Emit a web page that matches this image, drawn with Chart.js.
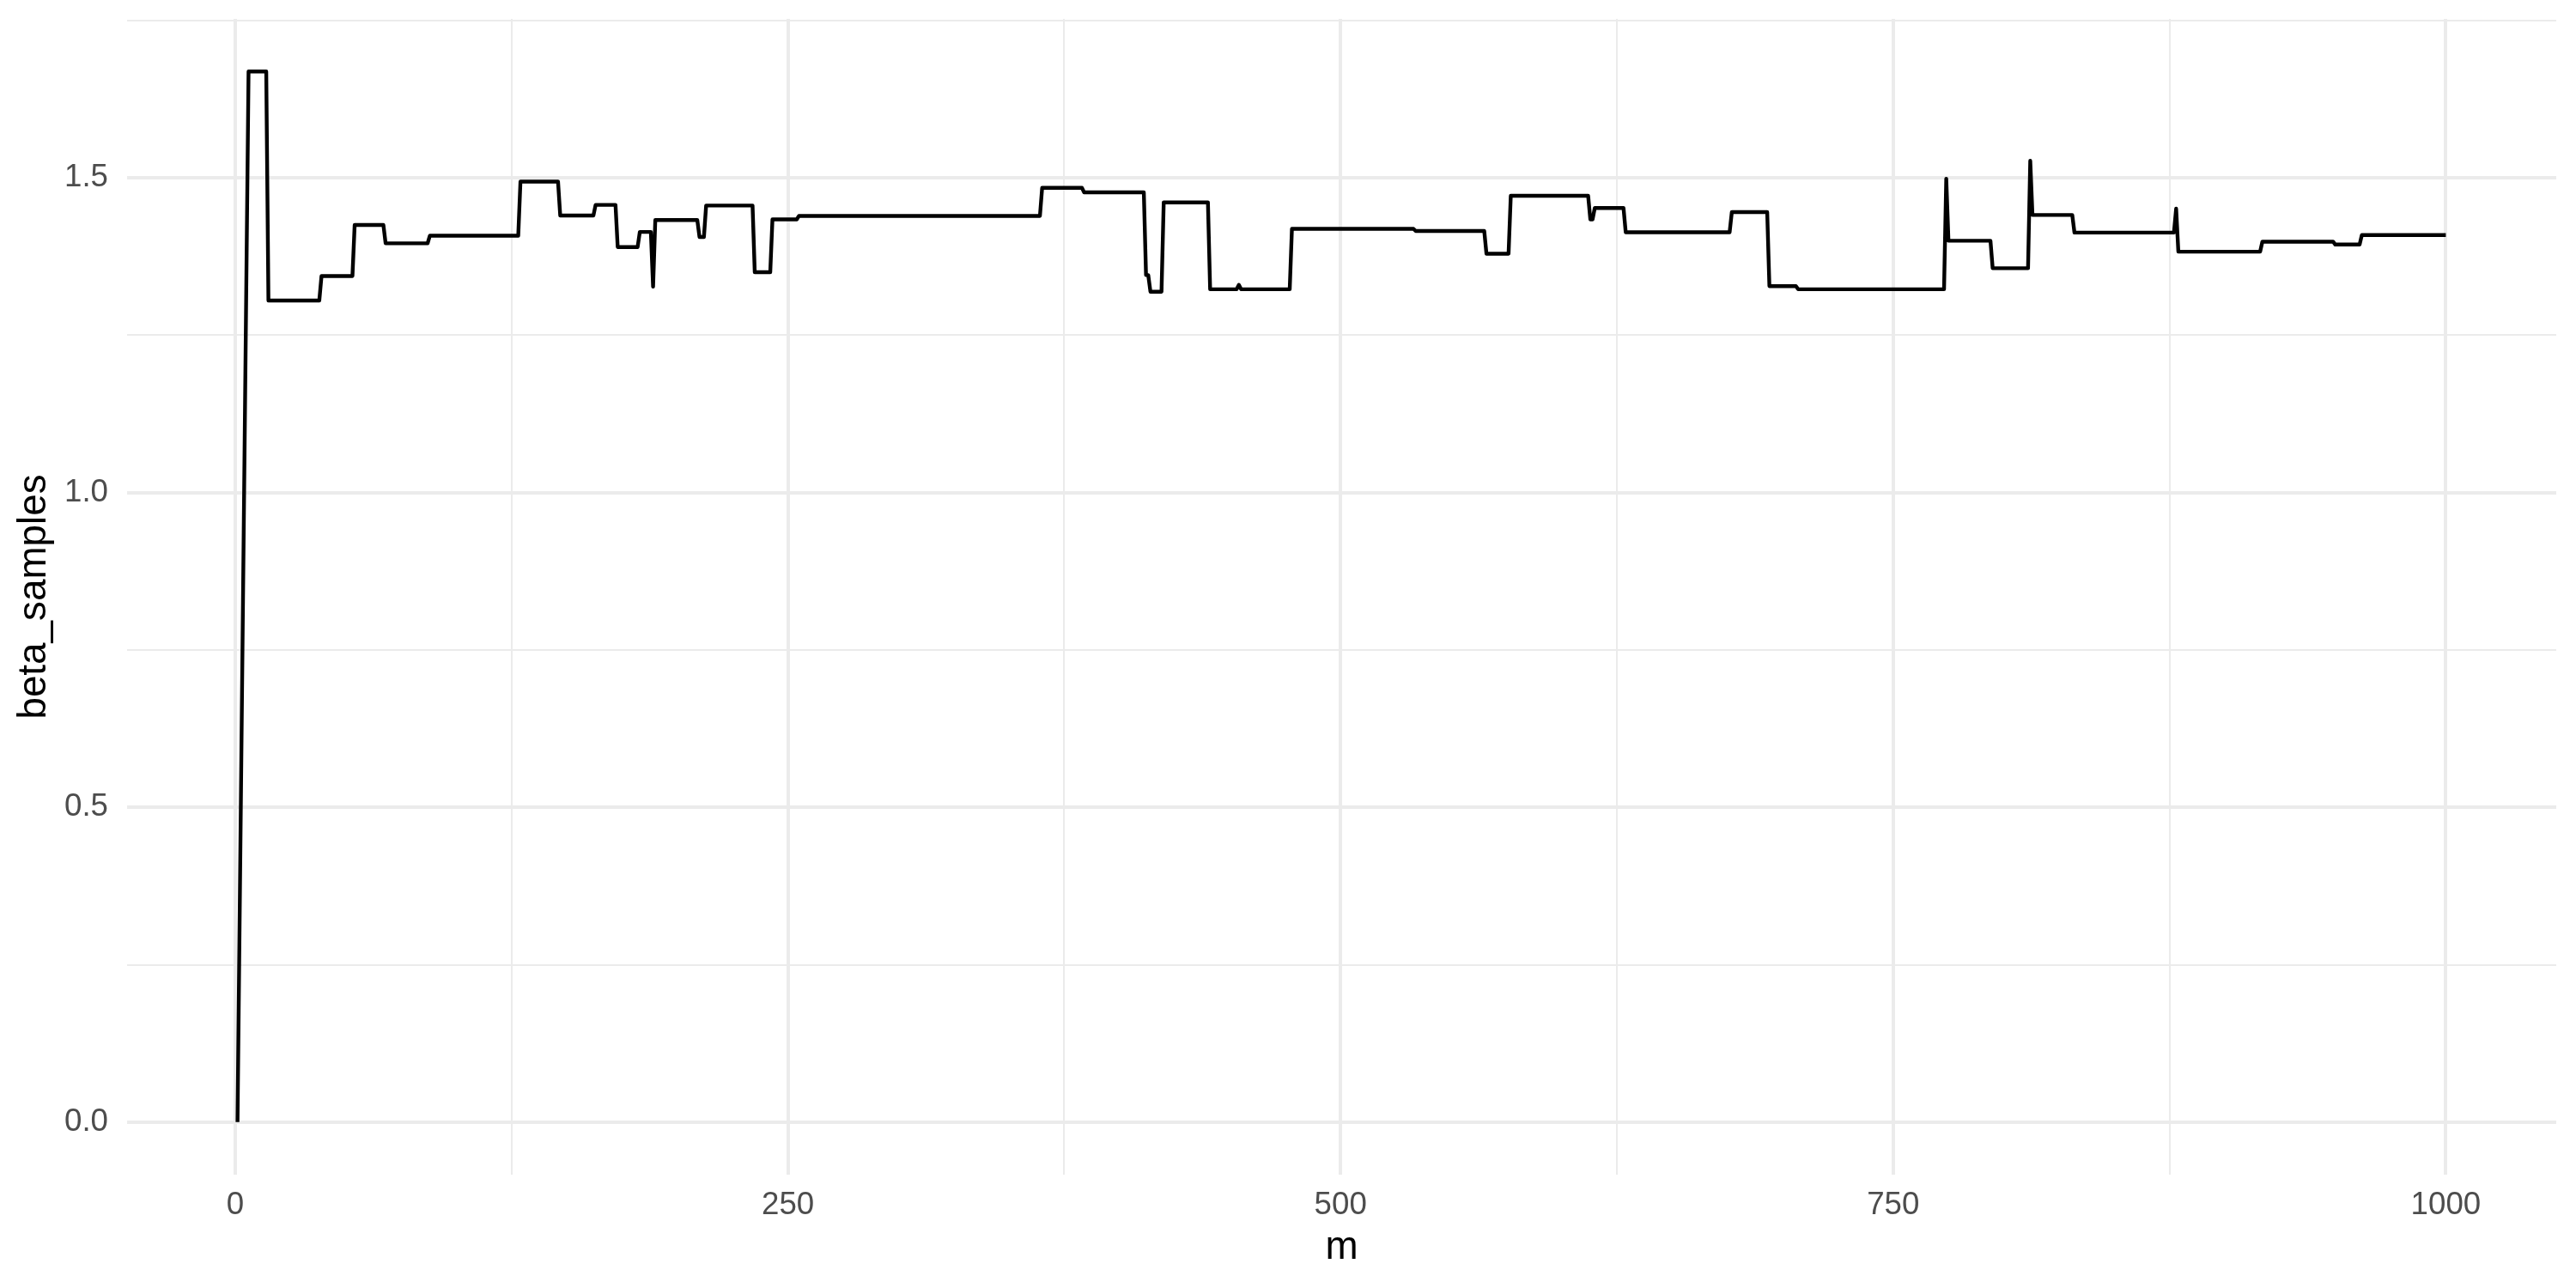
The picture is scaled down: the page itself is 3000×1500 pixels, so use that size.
<!DOCTYPE html>
<html>
<head>
<meta charset="utf-8">
<script src="https://cdn.jsdelivr.net/npm/chart.js@4/dist/chart.umd.min.js"></script>
<style>
  html, body { margin: 0; padding: 0; background: #ffffff; }
  #wrap { width: 3000px; height: 1500px; }
</style>
</head>
<body>
<div id="wrap"><canvas id="c" width="3000" height="1500"></canvas></div>
<script>
// Iteration index (m) at each corner of the trace
const mValues = [
  1,
  6, 14, 15, 38, 39, 53, 54, 67, 68, 87, 88, 128, 129, 146, 147, 162, 163, 172,
  173, 182, 183, 188, 189, 190, 209, 210, 212, 213, 234, 235, 242, 243, 254,
  255, 364, 365, 383, 384, 411, 412, 413, 414, 419, 420, 440, 441, 453, 454,
  455, 477, 478, 533, 534, 565, 566, 576, 577, 612, 613, 614, 615, 628,
  629, 676, 677, 693, 694, 706, 707, 773, 774, 775, 794, 795, 811, 812,
  813, 831, 832, 877, 878, 879, 916, 917, 949, 950, 961, 962, 1000
];
// beta_samples value at each of those m
const betaSamples = [
  0,
  1.669, 1.669, 1.305, 1.305, 1.344, 1.344, 1.425, 1.425, 1.396, 1.396, 1.408, 1.408, 1.494, 1.494, 1.440, 1.440, 1.457, 1.457,
  1.390, 1.390, 1.414, 1.414, 1.327, 1.433, 1.433, 1.406, 1.406, 1.456, 1.456, 1.350, 1.350, 1.434, 1.434,
  1.4395, 1.4395, 1.484, 1.484, 1.477, 1.477, 1.3455, 1.3455, 1.319, 1.319, 1.461, 1.461, 1.323, 1.323, 1.330,
  1.323, 1.323, 1.419, 1.419, 1.4155, 1.4155, 1.3795, 1.3795, 1.4714, 1.4714, 1.434, 1.434, 1.452, 1.452,
  1.4136, 1.4136, 1.4455, 1.4455, 1.328, 1.328, 1.323, 1.323, 1.4986, 1.400, 1.400, 1.3564, 1.3564, 1.527,
  1.441, 1.441, 1.413, 1.413, 1.451, 1.3827, 1.3827, 1.3986, 1.3986, 1.394, 1.394, 1.409, 1.409
];

const xMajorTicks = [0, 250, 500, 750, 1000];
const xMajorLabels = ['0', '250', '500', '750', '1000'];
const xMinorTicks = [125, 375, 625, 875];
const yMajorTicks = [0, 0.5, 1.0, 1.5];
const yMajorLabels = ['0.0', '0.5', '1.0', '1.5'];
const yMinorTicks = [0.25, 0.75, 1.25, 1.75];

const xTitle = 'm';
const yTitle = 'beta_samples';

// ggplot-style 5% expansion of the data range
const xDataMin = Math.min(...mValues), xDataMax = Math.max(...mValues);
const yDataMin = Math.min(...betaSamples), yDataMax = Math.max(...betaSamples);
const xPad = (xDataMax - xDataMin) * 0.05;
const yPad = (yDataMax - yDataMin) * 0.05;

const points = mValues.map((m, i) => ({ x: m, y: betaSamples[i] }));

const GRID = '#EBEBEB';
const TICK_COLOR = '#4D4D4D';
const FONT = '"Liberation Sans", Arial, Helvetica, sans-serif';

function isIn(arr, v) { return arr.some(a => Math.abs(a - v) < 1e-9); }

new Chart(document.getElementById('c'), {
  type: 'line',
  data: {
    datasets: [{
      data: points,
      borderColor: '#000000',
      borderWidth: 4.4,
      pointRadius: 0,
      pointHoverRadius: 0,
      tension: 0,
      fill: false,
      borderJoinStyle: 'round',
      borderCapStyle: 'butt'
    }]
  },
  options: {
    responsive: false,
    devicePixelRatio: 1,
    animation: false,
    events: [],
    layout: { padding: { top: 22, right: 23, left: 0, bottom: 0 } },
    plugins: { legend: { display: false }, tooltip: { enabled: false } },
    scales: {
      x: {
        type: 'linear',
        position: 'bottom',
        min: xDataMin - xPad,
        max: xDataMax + xPad,
        afterBuildTicks: (s) => {
          s.ticks = [...xMajorTicks, ...xMinorTicks].sort((a, b) => a - b).map(v => ({ value: v }));
        },
        afterFit: (s) => { s.height = 132; s.paddingLeft = 0; s.paddingRight = 0; s.paddingTop = 0; s.paddingBottom = 0; },
        border: { display: false },
        grid: {
          color: GRID,
          drawTicks: false,
          lineWidth: (ctx) => (ctx.tick && isIn(xMajorTicks, ctx.tick.value)) ? 4 : 2
        },
        ticks: {
          autoSkip: false,
          maxRotation: 0,
          minRotation: 0,
          padding: 14,
          color: TICK_COLOR,
          font: { family: FONT, size: 36.7 },
          callback: (v) => {
            const i = xMajorTicks.findIndex(t => Math.abs(t - v) < 1e-9);
            return i >= 0 ? xMajorLabels[i] : '';
          }
        },
        title: {
          display: true,
          text: xTitle,
          color: '#000000',
          font: { family: FONT, size: 45.8 },
          padding: { top: 0, bottom: 19 }
        }
      },
      y: {
        type: 'linear',
        position: 'left',
        min: yDataMin - yPad,
        max: yDataMax + yPad,
        afterBuildTicks: (s) => {
          s.ticks = [...yMajorTicks, ...yMinorTicks].sort((a, b) => a - b).map(v => ({ value: v }));
        },
        afterFit: (s) => { s.width = 148; s.paddingTop = 0; s.paddingBottom = 0; s.paddingLeft = 0; s.paddingRight = 0; },
        border: { display: false },
        grid: {
          color: GRID,
          drawTicks: false,
          lineWidth: (ctx) => (ctx.tick && isIn(yMajorTicks, ctx.tick.value)) ? 4 : 2
        },
        ticks: {
          autoSkip: false,
          padding: 22,
          color: TICK_COLOR,
          font: { family: FONT, size: 36.7 },
          callback: (v) => {
            const i = yMajorTicks.findIndex(t => Math.abs(t - v) < 1e-9);
            return i >= 0 ? yMajorLabels[i] : '';
          }
        },
        title: {
          display: true,
          text: yTitle,
          color: '#000000',
          font: { family: FONT, size: 45.8 },
          padding: { top: 13, bottom: 0 }
        }
      }
    }
  }
});
</script>
</body>
</html>
